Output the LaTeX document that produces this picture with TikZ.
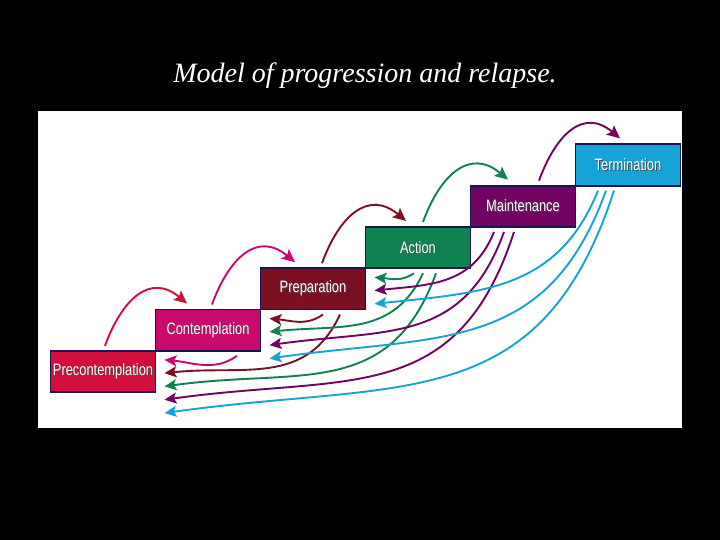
\documentclass[tikz,border=0pt]{standalone}
\usepackage{fontspec}
\setmainfont{Liberation Serif}
\newfontfamily\stagefont[FakeStretch=0.78]{Liberation Sans}
\usetikzlibrary{arrows.meta,positioning}

\definecolor{precol}{RGB}{208,16,58}
\definecolor{concol}{RGB}{200,10,110}
\definecolor{prepcol}{RGB}{122,16,34}
\definecolor{actcol}{RGB}{16,130,82}
\definecolor{mntcol}{RGB}{112,4,96}
\definecolor{tercol}{RGB}{22,164,214}
\definecolor{edgecol}{RGB}{22,22,82}

\newcommand\stagetext[1]{\rlap{\kern0.9pt\raisebox{-0.9pt}{\color{black!70}#1}}#1}

\begin{document}
\begin{tikzpicture}[x=1pt,y=1pt,
  stage/.style={draw=edgecol, line width=1.8pt, fill=#1, minimum width=105pt,
    minimum height=41.3pt, inner sep=0pt, outer sep=0pt, text=white,
    font=\stagefont\fontsize{16.5}{18}\selectfont},
  fwd/.style={draw=#1, line width=1.9pt, -{Stealth[length=13pt,width=12pt,inset=2.5pt]}},
  back/.style={draw=#1, line width=1.9pt, -{Stealth[length=12pt,width=11pt,inset=2.5pt]}}]
\fill[black] (0,0) rectangle (720,540);
\fill[white] (38,112) rectangle (682,429);
\node[text=white, font=\fontsize{28}{31}\selectfont\itshape] (title) at (365,464) {Model of progression and relapse.};

% the six stages, each on the corner of the one below
\node[stage=precol] (pre) at (103,168.5) {\stagetext{Precontemplation}};
\node[stage=concol, anchor=south west] (con) at (pre.north east) {\stagetext{Contemplation}};
\node[stage=prepcol, anchor=south west] (prep) at (con.north east) {\stagetext{Preparation}};
\node[stage=actcol, anchor=south west] (act) at (prep.north east) {\stagetext{Action}};
\node[stage=mntcol, anchor=south west] (mnt) at (act.north east) {\stagetext{Maintenance}};
\node[stage=tercol, anchor=south west] (ter) at (mnt.north east) {\stagetext{Termination}};

% progression
\foreach \a/\b/\c/\sx/\ex in {pre/con/precol/2/-21, con/prep/concol/4/-18, prep/act/prepcol/9/-12,
    act/mnt/actcol/5/-15, mnt/ter/mntcol/16/-8}
  \draw[fwd=\c] ([shift={(\sx pt,5pt)}]\a.north) to[out=70, in=140, looseness=1.35] ([shift={(\ex pt,6pt)}]\b.north);

% relapse
\foreach \a/\b/\c/\dx/\k/\o/\i/\l in {con/pre/concol/29/0/-145/-5/1,
    prep/con/prepcol/10/0/-145/-5/1, prep/pre/prepcol/27/1/-115/6/1.1,
    act/prep/actcol/-4/0/-145/-5/1, act/con/actcol/5/1/-115/6/1.1, act/pre/actcol/18/2/-110/8/1.18,
    mnt/prep/mntcol/-29/1/-112/6/1.1, mnt/con/mntcol/-19/2/-110/8/1.18, mnt/pre/mntcol/-9/3/-108/8/1.22,
    ter/prep/tercol/-30/2/-112/6/1.1, ter/con/tercol/-22/3/-110/8/1.18, ter/pre/tercol/-14/4/-108/8/1.22}
  \draw[back=\c] ([shift={(\dx pt,-5pt)}]\a.south) to[out=\o, in=\i, looseness=\l] ([shift={(9pt,-9pt-13.3pt*\k)}]\b.north east);
\end{tikzpicture}
\end{document}
